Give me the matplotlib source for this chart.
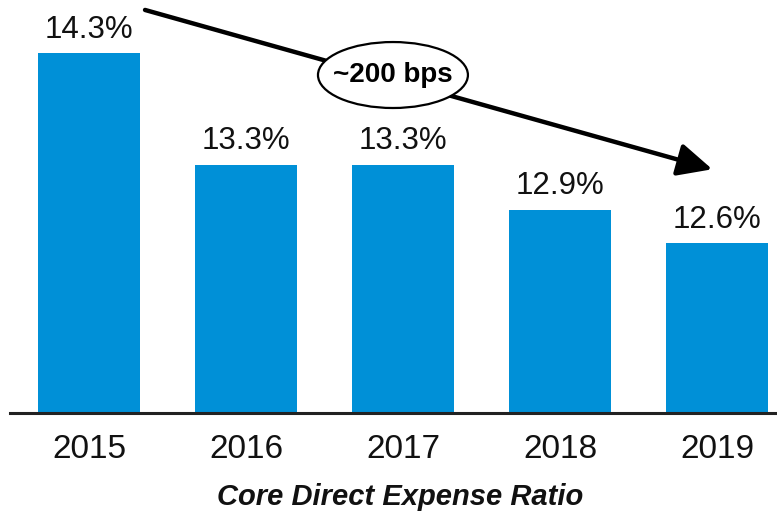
import matplotlib
matplotlib.use("Agg")
import matplotlib.pyplot as plt
from matplotlib.patches import Ellipse

years = ["2015", "2016", "2017", "2018", "2019"]
ratios = [14.3, 13.3, 13.3, 12.9, 12.6]
labels = ["14.3%", "13.3%", "13.3%", "12.9%", "12.6%"]
title = "Core Direct Expense Ratio"
callout = "~200 bps"

plt.rcParams['font.family'] = ['Liberation Sans', 'DejaVu Sans']

W, H = 777, 523
fig = plt.figure(figsize=(W / 100, H / 100), dpi=100)
base_px = 413
ax = fig.add_axes([10 / W, (H - base_px) / H, 767 / W, base_px / H])

color = '#0090D7'
x = list(range(len(years)))
ax.bar(x, ratios, width=0.645, color=color, bottom=0)
ymin, ymax = 11.08, 14.774
ax.set_ylim(ymin, ymax)
ax.set_xlim(-0.503, 4.382)

for xi, v, lab in zip(x, ratios, labels):
    ax.annotate(lab, (xi, v), xytext=(0, 6), textcoords='offset points',
                ha='center', va='bottom', fontsize=22.5, color='#111111')

for s in ['top', 'right', 'left']:
    ax.spines[s].set_visible(False)
ax.spines['bottom'].set_linewidth(2.2)
ax.spines['bottom'].set_color('#222222')
ax.set_yticks([])
ax.set_xticks(x)
ax.set_xticklabels(years, fontsize=24, color='#111111')
ax.tick_params(axis='x', length=0, pad=15)

# trend arrow
ax.annotate('', xy=(3.97, 13.26), xytext=(0.357, 14.685),
            arrowprops=dict(arrowstyle='-|>,head_length=2.1,head_width=1.0',
                            color='black', lw=3.2, shrinkA=0, shrinkB=0),
            annotation_clip=False)
ell = Ellipse((1.936, 14.103), 0.955, 0.59, facecolor='white',
              edgecolor='black', lw=1.6, zorder=5, clip_on=False)
ax.add_patch(ell)
ax.text(1.936, 14.103, callout, ha='center', va='center', fontsize=20,
        fontweight='bold', zorder=6)

fig.text(400 / W, 1 - 497 / H, title, ha='center', va='center', fontsize=21,
         fontweight='bold', fontstyle='italic', color='#111111')

fig.savefig('out.png', dpi=100)
